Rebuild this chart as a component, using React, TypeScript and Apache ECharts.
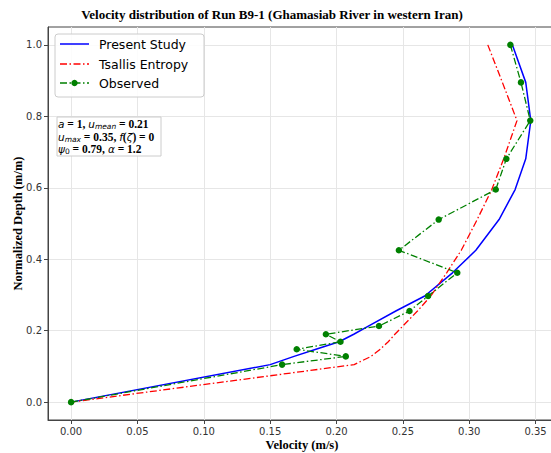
import React, { useEffect, useRef } from "react";
import * as echarts from "echarts";

// Normalized depths (observation order, top to bottom)
const depths = [1.0, 0.895, 0.788, 0.681, 0.595, 0.511, 0.425, 0.362, 0.297, 0.255, 0.213, 0.19, 0.169, 0.148, 0.128, 0.105, 0.0];
// Observed velocities (m/s)
const observedVel = [0.331, 0.339, 0.346, 0.328, 0.32, 0.277, 0.247, 0.291, 0.269, 0.255, 0.232, 0.192, 0.203, 0.17, 0.207, 0.159, 0.0];
// Present Study model velocities at same depths
const presentVel = [0.3325, 0.3426, 0.3464, 0.3426, 0.3346, 0.3225, 0.305, 0.2874, 0.2665, 0.2447, 0.224, 0.213, 0.202, 0.1845, 0.168, 0.15, 0.0];
// Tsallis entropy model velocities at same depths
const tsallisVel = [0.314, 0.325, 0.336, 0.326, 0.317, 0.306, 0.294, 0.283, 0.271, 0.261, 0.25, 0.244, 0.239, 0.233, 0.226, 0.2133, 0.0];

const xTicks = [0, 0.05, 0.1, 0.15, 0.2, 0.25, 0.3, 0.35];
const yTicks = [0, 0.2, 0.4, 0.6, 0.8, 1.0];

const seriesNames = ["Present Study", "Tsallis Entropy", "Observed"];
const seriesColors = ["#0000ff", "#ff0000", "#008000"];

const TITLE = "Velocity distribution of Run B9-1 (Ghamasiab River in western Iran)";

const pairs = (vel: number[]) => vel.map((v, i) => [v, depths[i]]);

export default function App() {
  const ref = useRef<HTMLDivElement>(null);
  useEffect(() => {
    if (!ref.current) return;
    const chart = echarts.init(ref.current, null, { renderer: "svg" });
    const dashDot = [7, 2.5, 1.5, 2.5];
    const serif = "Liberation Serif";
    const sans = "DejaVu Sans";
    const legendRows = [44, 64, 83];
    const legendGraphics: any[] = [
      {
        type: "rect",
        shape: { x: 55, y: 34, width: 149, height: 63, r: 3 },
        style: { fill: "rgba(255,255,255,0.85)", stroke: "#cccccc", lineWidth: 1 },
        z: 10,
      },
    ];
    seriesNames.forEach((name, i) => {
      legendGraphics.push({
        type: "line",
        shape: { x1: 60, y1: legendRows[i], x2: 89, y2: legendRows[i] },
        style: { stroke: seriesColors[i], lineWidth: 1.5, lineDash: i === 0 ? null : dashDot },
        z: 11,
      });
      if (i === 2) {
        legendGraphics.push({
          type: "circle",
          shape: { cx: 74.5, cy: legendRows[i], r: 3.2 },
          style: { fill: seriesColors[i] },
          z: 12,
        });
      }
      legendGraphics.push({
        type: "text",
        x: 99,
        y: legendRows[i],
        style: {
          text: name,
          fontFamily: sans,
          fontSize: 12.5,
          fill: "#000",
          verticalAlign: "middle",
          align: "left",
        },
        z: 12,
      });
    });

    const rich = {
      b: { fontFamily: serif, fontWeight: "bold", fontSize: 11.5, lineHeight: 12.5, fill: "#000" },
      i: { fontFamily: sans, fontStyle: "italic", fontSize: 10.5, lineHeight: 12.5, fill: "#000" },
      s: { fontFamily: sans, fontStyle: "italic", fontSize: 7.5, lineHeight: 8, verticalAlign: "bottom", fill: "#000" },
      n: { fontFamily: sans, fontSize: 7.5, lineHeight: 8, verticalAlign: "bottom", fill: "#000" },
    };

    chart.setOption({
      animation: false,
      grid: {
        left: 48,
        top: 27,
        width: 508,
        height: 393,
        show: true,
        borderColor: "#444",
        borderWidth: 1,
        backgroundColor: "transparent",
        containLabel: false,
        outerBoundsMode: "none",
      },
      xAxis: {
        type: "value",
        min: -0.0174,
        max: 0.3654,
        name: "Velocity (m/s)",
        nameLocation: "middle",
        nameGap: 18,
        nameMoveOverlap: false,
        nameTextStyle: { fontFamily: serif, fontWeight: "bold", fontSize: 12.5, color: "#000" },
        axisLine: { show: true, onZero: false, lineStyle: { color: "#444", width: 1 } },
        axisTick: { show: true, length: 4, customValues: xTicks, lineStyle: { color: "#444" } },
        axisLabel: {
          customValues: xTicks,
          formatter: (v: number) => v.toFixed(2),
          fontFamily: sans,
          fontSize: 10,
          color: "#333",
          margin: 6,
        },
        splitLine: { show: true, lineStyle: { color: "#e6e6e6", width: 1 } },
      },
      yAxis: {
        type: "value",
        min: -0.05,
        max: 1.05,
        name: "Normalized Depth (m/m)",
        nameLocation: "middle",
        nameGap: 24,
        nameMoveOverlap: false,
        nameTextStyle: { fontFamily: serif, fontWeight: "bold", fontSize: 12.5, color: "#000" },
        axisLine: { show: true, onZero: false, lineStyle: { color: "#444", width: 1 } },
        axisTick: { show: true, length: 4, customValues: yTicks, lineStyle: { color: "#444" } },
        axisLabel: {
          customValues: yTicks,
          formatter: (v: number) => v.toFixed(1),
          fontFamily: sans,
          fontSize: 10,
          color: "#333",
          margin: 6,
        },
        splitLine: { show: true, lineStyle: { color: "#e6e6e6", width: 1 } },
      },
      series: [
        {
          name: seriesNames[0],
          type: "line",
          data: pairs(presentVel),
          showSymbol: false,
          symbol: "none",
          lineStyle: { color: seriesColors[0], width: 1.5 },
          z: 2,
        },
        {
          name: seriesNames[1],
          type: "line",
          data: pairs(tsallisVel),
          showSymbol: false,
          symbol: "none",
          lineStyle: { color: seriesColors[1], width: 1.3, type: dashDot },
          z: 3,
        },
        {
          name: seriesNames[2],
          type: "line",
          data: pairs(observedVel),
          symbol: "circle",
          symbolSize: 6.5,
          itemStyle: { color: seriesColors[2] },
          lineStyle: { color: seriesColors[2], width: 1.3, type: dashDot },
          z: 4,
        },
      ],
      graphic: [
        {
          type: "text",
          x: 272,
          y: 14,
          style: {
            text: TITLE,
            fontFamily: serif,
            fontWeight: "bold",
            fontSize: 13,
            fill: "#000",
            align: "center",
            verticalAlign: "middle",
          },
        },
        ...legendGraphics,
        {
          type: "rect",
          shape: { x: 57, y: 117, width: 104, height: 39 },
          style: { fill: "rgba(255,255,255,0.9)", stroke: "#cccccc", lineWidth: 1 },
          z: 10,
        },
        {
          type: "text",
          x: 58,
          y: 118,
          z: 11,
          style: {
            text:
              "{i|a}{b| = 1, }{i|u}{s|mean}{b| = 0.21}\n" +
              "{i|u}{s|max}{b| = 0.35, }{i|f}{b|(}{i|ζ}{b|) = 0}\n" +
              "{i|ψ}{n|0}{b| = 0.79, }{i|α}{b| = 1.2}",
            rich,
            align: "left",
            verticalAlign: "top",
          },
        },
      ],
    });
    return () => chart.dispose();
  }, []);
  return (
    <div style={{ position: "fixed", left: 0, top: 0, width: 551, height: 453, overflow: "hidden", background: "#fff" }}>
      <div ref={ref} style={{ width: 560, height: 453 }} />
    </div>
  );
}
